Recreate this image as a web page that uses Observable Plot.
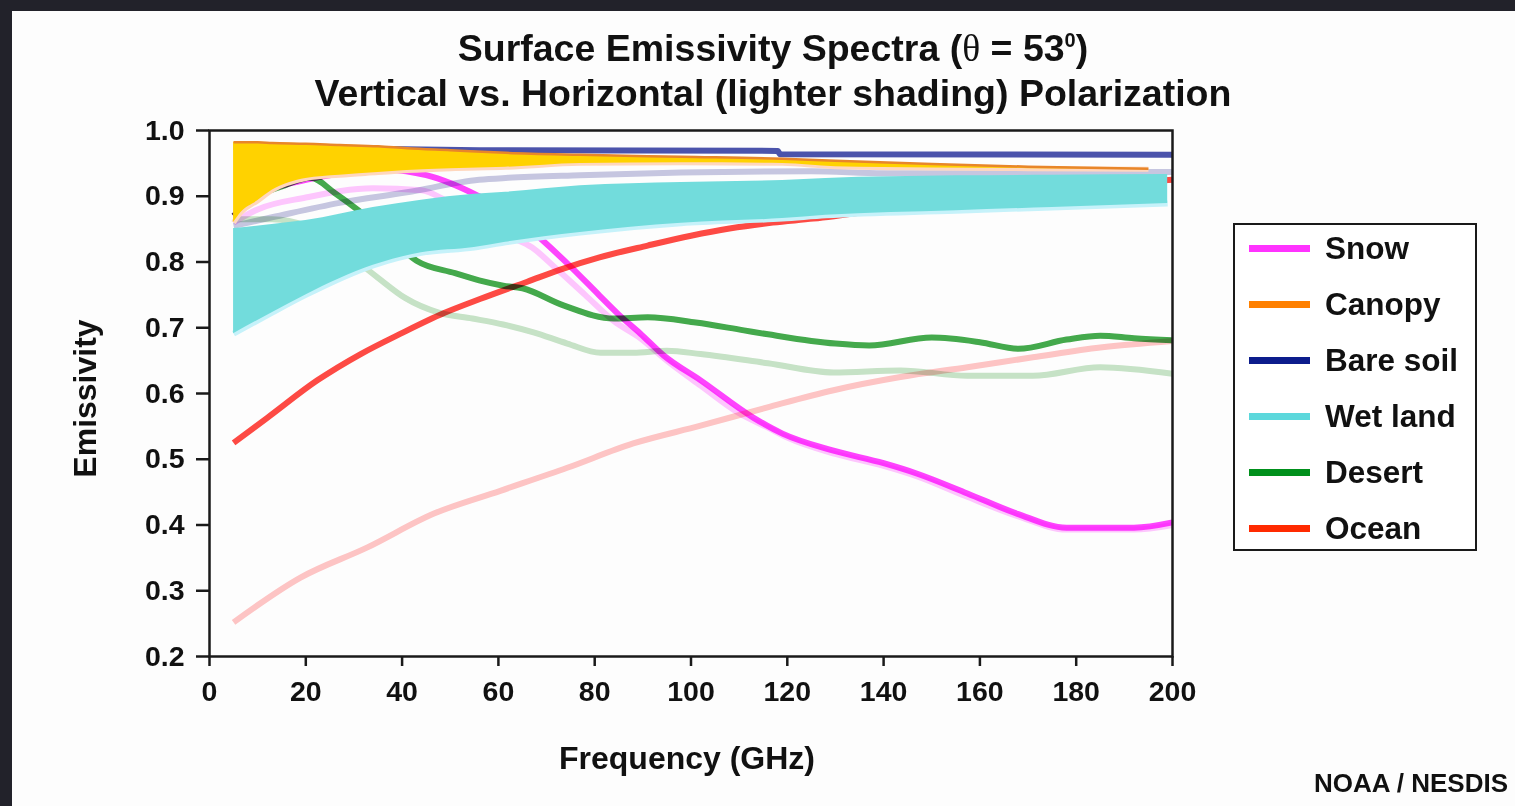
<!DOCTYPE html>
<html>
<head>
<meta charset="utf-8">
<script src="https://cdn.jsdelivr.net/npm/d3@7"></script>
<script src="https://cdn.jsdelivr.net/npm/@observablehq/plot@0.6"></script>
<style>
html, body { margin: 0; padding: 0; width: 1515px; height: 806px; overflow: hidden; background: #22222a; }
#panel { position: absolute; left: 12px; top: 11px; width: 1503px; height: 795px; background: #fdfdfd;
  font-family: "Liberation Sans", Arial, Helvetica, sans-serif; font-weight: bold; color: #111; }
#title { position: absolute; left: 261px; top: 15px; width: 1000px; text-align: center; font-size: 37.5px; line-height: 44px; }
#title .th { font-family: "Liberation Serif", "DejaVu Serif", serif; font-weight: normal; }
#title sup { font-size: 20px; vertical-align: 14px; line-height: 0; }
#chart { position: absolute; left: 0; top: 104px; }
#legend { position: absolute; left: 1221px; top: 212px; width: 244px; height: 328px; box-sizing: border-box;
  border: 2.5px solid #1a1a1a; background: #fff; }
.item { position: absolute; left: 0; height: 56px; display: flex; align-items: center; font-size: 31.5px; }
.sw { width: 61px; height: 7px; margin-left: 14px; margin-right: 15px; }
#caption { position: absolute; right: 7px; top: 757px; font-size: 26px; line-height: 30px; }
</style>
</head>
<body>
<div id="panel">
  <div id="title">Surface Emissivity Spectra (<span class="th">θ</span> = 53<sup>0</sup>)<br>Vertical vs. Horizontal (lighter shading) Polarization</div>
  <div id="chart"></div>
  <div id="legend"></div>
  <div id="caption">NOAA / NESDIS</div>
</div>
<script>
// ---- axis ticks ----
const xTicks = [0, 20, 40, 60, 80, 100, 120, 140, 160, 180, 200];
const yTicks = [0.2, 0.3, 0.4, 0.5, 0.6, 0.7, 0.8, 0.9, 1.0];

// ---- legend ----
const legendLabels = ["Snow", "Canopy", "Bare soil", "Wet land", "Desert", "Ocean"];
const legendColors = ["#ff33ff", "#ff8000", "#0c1c8c", "#5cd8dc", "#00901c", "#ff2a00"];

// ---- Snow ----
const snowVFreq = [5, 10, 20, 30, 37, 45, 50, 56, 60, 65, 68.7, 75, 81, 85, 89.5, 94.3, 102, 113, 119, 129.6, 140, 147, 157.4, 167.8, 178, 192, 200];
const snowV = [0.87, 0.90, 0.925, 0.937, 0.94, 0.932, 0.92, 0.90, 0.885, 0.86, 0.836, 0.793, 0.749, 0.72, 0.691, 0.658, 0.62, 0.563, 0.539, 0.513, 0.494, 0.478, 0.448, 0.417, 0.396, 0.396, 0.404];
const snowHFreq = [5, 10, 20, 34, 44, 49, 56, 62, 67, 72, 78, 84, 89.5, 95, 102, 110, 116, 120, 130, 140, 147, 157, 168, 178, 192, 200];
const snowH = [0.86, 0.88, 0.898, 0.912, 0.909, 0.894, 0.865, 0.84, 0.822, 0.79, 0.75, 0.71, 0.684, 0.65, 0.612, 0.57, 0.548, 0.533, 0.508, 0.49, 0.474, 0.444, 0.413, 0.393, 0.393, 0.40];

// ---- Ocean ----
const oceanVFreq = [5, 12, 22.4, 31.4, 39.7, 48.6, 56.3, 66, 73.5, 81, 91, 100, 108, 117, 125.4, 140, 160, 180, 200];
const oceanV = [0.525, 0.563, 0.62, 0.66, 0.691, 0.722, 0.744, 0.77, 0.79, 0.807, 0.825, 0.84, 0.851, 0.86, 0.866, 0.88, 0.90, 0.915, 0.925];
const oceanHFreq = [5, 18.9, 32.8, 46.5, 60.4, 74.3, 88, 102, 115.9, 129.6, 143.5, 157.4, 171, 185, 200];
const oceanH = [0.252, 0.32, 0.366, 0.417, 0.452, 0.487, 0.524, 0.551, 0.579, 0.605, 0.625, 0.64, 0.655, 0.67, 0.68];

// ---- Desert ----
const desertVFreq = [5, 10, 15, 21, 26, 31, 37, 43, 51, 56, 61, 65, 73.5, 84, 91, 101, 111, 116, 125, 130, 137, 150, 160, 168, 178, 185, 192, 200];
const desertV = [0.87, 0.90, 0.915, 0.928, 0.905, 0.878, 0.84, 0.802, 0.783, 0.772, 0.764, 0.76, 0.734, 0.714, 0.716, 0.708, 0.696, 0.69, 0.68, 0.676, 0.673, 0.685, 0.678, 0.668, 0.682, 0.688, 0.684, 0.681];
const desertHFreq = [5, 13, 20, 25, 30, 35, 40.7, 47.6, 54.6, 61, 67.3, 74.3, 81.2, 88, 95, 102, 116, 129.6, 143.5, 157.4, 171, 185, 200];
const desertH = [0.865, 0.865, 0.855, 0.835, 0.805, 0.776, 0.745, 0.723, 0.714, 0.705, 0.693, 0.676, 0.662, 0.662, 0.665, 0.66, 0.646, 0.632, 0.635, 0.627, 0.627, 0.64, 0.63];

// ---- Bare soil ----
const bareVFreq = [5, 56, 118, 118.5, 200];
const bareV = [0.975, 0.970, 0.969, 0.964, 0.963];
const bareHFreq = [5, 13, 27, 41, 56, 62, 77, 98, 125, 140, 160, 180, 200];
const bareH = [0.855, 0.868, 0.89, 0.906, 0.925, 0.928, 0.932, 0.936, 0.938, 0.935, 0.935, 0.937, 0.937];

// ---- Wet land (band between V and H) ----
const wetFreq = [5, 13, 20, 34, 44, 55, 61.5, 77, 98, 119, 128, 155, 175, 199];
const wetV = [0.851, 0.857, 0.863, 0.883, 0.894, 0.903, 0.906, 0.916, 0.921, 0.924, 0.927, 0.931, 0.932, 0.933];
const wetH = [0.691, 0.723, 0.75, 0.795, 0.814, 0.822, 0.83, 0.845, 0.859, 0.866, 0.871, 0.878, 0.883, 0.889];

// ---- Canopy (band between V and H) ----
const canopyFreq = [5, 6.5, 10, 13, 20, 27, 35, 41, 50, 61.5, 77, 98, 119, 130, 150, 170, 195];
const canopyV = [0.982, 0.982, 0.982, 0.981, 0.98, 0.978, 0.976, 0.973, 0.97, 0.966, 0.963, 0.96, 0.957, 0.954, 0.949, 0.945, 0.942];
const canopyH = [0.86, 0.875, 0.893, 0.909, 0.927, 0.932, 0.936, 0.939, 0.942, 0.944, 0.95, 0.951, 0.95, 0.945, 0.943, 0.942, 0.941];

// ---- build tables ----
const rows = (fs, vs) => fs.map((f, i) => ({f, v: vs[i]}));
const band = (fs, hi, lo) => fs.map((f, i) => ({f, hi: hi[i], lo: lo[i]}));

const lineOpts = (stroke, w = 6) => ({x: "f", y: "v", stroke, strokeWidth: w, curve: "monotone-x",
  strokeLinecap: "butt", mixBlendMode: "multiply"});

const chart = Plot.plot({
  width: 1180,
  height: 675,
  marginLeft: 197,
  marginRight: 20,
  marginTop: 15,
  marginBottom: 134,
  x: {domain: [0, 200]},
  y: {domain: [0.2, 1.0]},
  style: {fontFamily: "'Liberation Sans', Arial, Helvetica, sans-serif", fontWeight: "bold", fontSize: "28.5px",
          color: "#111", background: "transparent", overflow: "visible"},
  marks: [
    Plot.line(rows(oceanHFreq, oceanH), lineOpts("#ffc6c6")),
    Plot.line(rows(desertHFreq, desertH), lineOpts("#c8e4c8")),
    Plot.line(rows(snowHFreq, snowH), lineOpts("#ffc8ff")),
    Plot.line(rows(desertVFreq, desertV), lineOpts("#44aa4c")),
    Plot.line(rows(snowVFreq, snowV), lineOpts("#ff44ff")),
    Plot.line(rows(oceanVFreq, oceanV), lineOpts("#ff4a44")),
    Plot.line(rows(bareHFreq, bareH), lineOpts("#c8c8e2")),
    Plot.line(rows(wetFreq, wetH), {...lineOpts("#c6f2fa"), mixBlendMode: "normal"}),
    Plot.areaY(band(wetFreq, wetV, wetH), {x: "f", y1: "lo", y2: "hi", fill: "#72dcdc", curve: "monotone-x"}),
    Plot.line(rows(bareVFreq, bareV), {...lineOpts("#4b53ab", 6), curve: "linear", mixBlendMode: "normal"}),
    Plot.line(rows(canopyFreq, canopyH), {...lineOpts("#ffd7bd", 5), mixBlendMode: "normal"}),
    Plot.areaY(band(canopyFreq, canopyV, canopyH), {x: "f", y1: "lo", y2: "hi", fill: "#ffd200", curve: "monotone-x"}),
    Plot.line(rows(canopyFreq, canopyV), {...lineOpts("#e8862a", 2.5), mixBlendMode: "normal"}),
    Plot.frame({stroke: "#1a1a1a", strokeWidth: 2.5}),
    Plot.axisX({ticks: xTicks, tickSize: 10, tickPadding: 14, tickFormat: d => String(d), label: null,
                strokeWidth: 2.5, stroke: "#1a1a1a", fontSize: 28.5}),
    Plot.axisY({ticks: yTicks, tickSize: 13, tickPadding: 12, tickFormat: d => d.toFixed(1), label: null,
                strokeWidth: 2.5, stroke: "#1a1a1a", fontSize: 28.5}),
    Plot.text(["Frequency (GHz)"], {text: d => d, frameAnchor: "bottom", dx: -4, dy: 112, fontSize: 32, fontWeight: "bold"}),
    Plot.text(["Emissivity"], {text: d => d, frameAnchor: "left", textAnchor: "middle", dx: -124, dy: 5, rotate: -90, fontSize: 32, fontWeight: "bold"})
  ]
});
document.getElementById("chart").appendChild(chart);

// legend
const legend = document.getElementById("legend");
legendLabels.forEach((lab, i) => {
  const item = document.createElement("div");
  item.className = "item";
  item.style.top = (-5 + 56 * i) + "px";
  const sw = document.createElement("div");
  sw.className = "sw";
  sw.style.background = legendColors[i];
  const tx = document.createElement("span");
  tx.textContent = lab;
  item.appendChild(sw);
  item.appendChild(tx);
  legend.appendChild(item);
});
</script>
</body>
</html>
